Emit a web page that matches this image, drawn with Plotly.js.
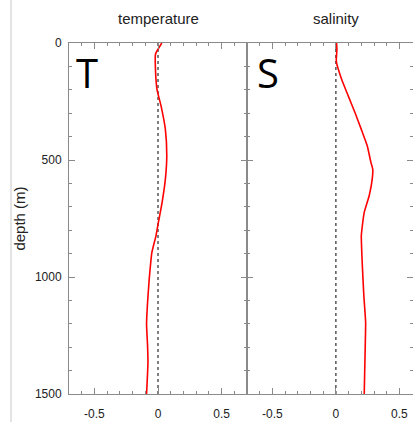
<!DOCTYPE html>
<html>
<head>
<meta charset="utf-8">
<script src="https://cdn.plot.ly/plotly-3.0.1.min.js"></script>
<style>html,body{margin:0;padding:0;background:#fff;}#chart{width:413px;height:423px;}</style>
</head>
<body>
<div id="chart"></div>
<script>
// temperature anomaly profile
const tempDepth = [0, 34, 48, 112, 198, 269, 369, 482, 582, 682, 767, 824, 895, 1009, 1109, 1201, 1294, 1365, 1500];
const tempValue = [0.03, -0.008, -0.02, -0.02, -0.008, 0.024, 0.058, 0.069, 0.058, 0.032, 0.003, -0.016, -0.048, -0.069, -0.082, -0.09, -0.082, -0.079, -0.09];
// salinity anomaly profile
const salDepth = [0, 27, 70, 84, 155, 226, 297, 369, 440, 511, 539, 582, 653, 724, 796, 824, 938, 1080, 1194, 1294, 1500];
const salValue = [0.005, 0.008, 0.003, 0.005, 0.045, 0.097, 0.15, 0.2, 0.247, 0.276, 0.29, 0.286, 0.262, 0.223, 0.205, 0.2, 0.207, 0.22, 0.234, 0.231, 0.223];
// zero reference
const refX = [0, 0];
const refDepth = [0, 1500];
const panelTitles = ["temperature", "salinity"];
const panelLetters = ["T", "S"];
const yTickVals = [0, 500, 1000, 1500];
const xTickVals = [-0.5, 0, 0.5];

const FONT = "Liberation Sans, Arial, sans-serif";
const axisColor = "#8a8a8a";

const traces = [
  {x: refX, y: refDepth, xaxis: "x", yaxis: "y", mode: "lines", line: {color: "#000", width: 1, dash: "3px,3px"}, hoverinfo: "skip"},
  {x: tempValue, y: tempDepth, xaxis: "x", yaxis: "y", mode: "lines", line: {color: "#ff0000", width: 1.6, shape: "spline", smoothing: 0.5}},
  {x: refX, y: refDepth, xaxis: "x2", yaxis: "y2", mode: "lines", line: {color: "#000", width: 1, dash: "3px,3px"}, hoverinfo: "skip"},
  {x: salValue, y: salDepth, xaxis: "x2", yaxis: "y2", mode: "lines", line: {color: "#ff0000", width: 1.6, shape: "spline", smoothing: 0.5}}
];

function xax(domain, range) {
  return {
    domain: domain, range: range, anchor: domain[0] === 0 ? "y" : "y2",
    showgrid: false, zeroline: false, showline: true, linecolor: axisColor, linewidth: 1,
    mirror: "ticks", ticks: "inside", ticklen: 6, tickwidth: 1, tickcolor: axisColor,
    tickvals: xTickVals, ticktext: xTickVals.map(v => String(v)),
    minor: {ticks: "inside", dtick: 0.1, tick0: 0, ticklen: 3, tickcolor: axisColor, tickwidth: 1, showgrid: false},
    tickfont: {family: FONT, size: 12, color: "#222"}, ticklabelstandoff: 9
  };
}
function yax(anchor, showLabels) {
  return {
    domain: [0, 1], range: [1500, 0], anchor: anchor,
    showgrid: false, zeroline: false, showline: true, linecolor: axisColor, linewidth: 1,
    mirror: "ticks", ticks: "inside", ticklen: 6, tickwidth: 1, tickcolor: axisColor,
    tickvals: yTickVals, showticklabels: showLabels,
    minor: {ticks: "inside", dtick: 100, tick0: 0, ticklen: 3, tickcolor: axisColor, tickwidth: 1, showgrid: false},
    tickfont: {family: FONT, size: 12, color: "#222"}, ticklabelstandoff: 4
  };
}

const split = 178 / 344;
const layout = {
  width: 413, height: 423,
  margin: {l: 69, r: 0, t: 43, b: 29, pad: 0},
  paper_bgcolor: "#fff", plot_bgcolor: "#fff",
  showlegend: false,
  xaxis: xax([0, split], [-0.7, 0.7]),
  xaxis2: xax([split, 1], [-0.7, 0.607]),
  yaxis: Object.assign(yax("x", true), {title: {text: "depth (m)", font: {family: FONT, size: 15, color: "#222"}, standoff: 5}}),
  yaxis2: yax("x2", false),
  annotations: [
    {text: panelTitles[0], xref: "paper", yref: "paper", x: 0.259, y: 1.071, showarrow: false, xanchor: "center", yanchor: "middle", font: {family: FONT, size: 15, color: "#222"}},
    {text: panelTitles[1], xref: "paper", yref: "paper", x: 0.776, y: 1.071, showarrow: false, xanchor: "center", yanchor: "middle", font: {family: FONT, size: 15, color: "#222"}},
    {text: panelLetters[0], xref: "paper", yref: "paper", x: 0.014, y: 0.915, showarrow: false, xanchor: "left", yanchor: "middle", font: {family: "Open Sans, sans-serif", size: 40, color: "#000"}},
    {text: panelLetters[1], xref: "paper", yref: "paper", x: 0.541, y: 0.915, showarrow: false, xanchor: "left", yanchor: "middle", font: {family: "Open Sans, sans-serif", size: 40, color: "#000"}}
  ],
  shapes: [
    {type: "line", xref: "paper", yref: "paper", x0: -0.1686, x1: -0.1686, y0: -0.08, y1: 1.123, line: {color: "#c8c8c8", width: 1}}
  ]
};

Plotly.newPlot("chart", traces, layout, {staticPlot: true, displayModeBar: false});
</script>
</body>
</html>
